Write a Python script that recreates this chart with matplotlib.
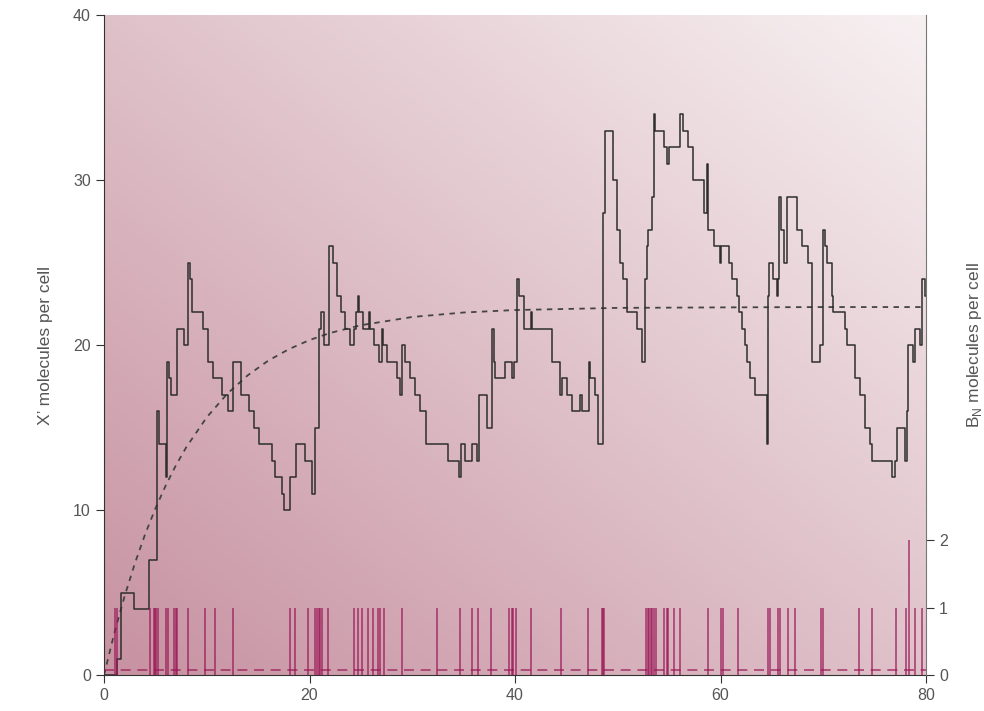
import numpy as np
import matplotlib.pyplot as plt

# X' molecule count (step trace), change points
step_t = [0, 1.23, 1.62, 2.9, 4.38, 5.19, 5.35, 6.0, 6.16, 6.3, 6.5, 7.1, 7.75,
          8.22, 8.4, 8.6, 9.6, 10.15, 10.65, 11.45, 12.05, 12.6, 13.3, 14.07,
          14.55, 15.1, 16.35, 16.6, 17.35, 17.5, 18.12, 18.7, 19.58, 20.22,
          20.55, 20.96, 21.1, 21.45, 21.85, 22.25, 22.65, 23.1, 23.45, 23.9,
          24.3, 24.55, 24.75, 24.85, 25.25, 25.75, 25.85, 26.24, 26.73, 27.05,
          27.15, 27.5, 28.5, 28.8, 29.0, 29.3, 29.8, 30.3, 30.8, 31.3, 33.5,
          34.5, 34.7, 35.13, 35.78, 36.27, 36.46, 37.27, 37.76, 37.92, 38.08,
          39.06, 39.7, 39.87, 40.19, 40.35, 40.84, 41.6, 41.7, 43.6, 44.41,
          44.57, 45.06, 45.55, 46.36, 46.5, 47.2, 47.3, 47.8, 48.11, 48.6,
          48.75, 49.57, 49.9, 50.22, 50.54, 50.87, 51.84, 52.33, 52.65, 52.8,
          52.98, 53.3, 53.5, 53.6, 54.45, 54.8, 54.95, 56.05, 56.35, 56.85,
          57.3, 58.4, 58.65, 58.8, 59.35, 59.95, 60.05, 60.8, 61.12, 61.6,
          61.77, 62.1, 62.42, 62.6, 62.9, 63.4, 64.5, 64.65, 64.75, 65.15,
          65.45, 65.6, 65.7, 65.85, 66.15, 66.5, 67.45, 67.95, 68.55, 68.9,
          69.72, 70.02, 70.15, 70.33, 70.82, 70.98, 72.11, 72.28, 73.09, 73.57,
          74.06, 74.55, 74.71, 76.65, 76.98, 77.14, 77.95, 78.11, 78.2, 78.76,
          78.93, 79.41, 79.57, 79.85, 80]
step_v = [0, 1, 5, 4, 7, 16, 14, 12, 19, 18, 17, 21, 20,
          25, 24, 22, 21, 19, 18, 17, 16, 19, 17, 16,
          15, 14, 13, 12, 11, 10, 12, 14, 13, 11,
          15, 21, 22, 20, 26, 25, 23, 22, 21, 20,
          21, 22, 23, 22, 21, 22, 21, 20, 19, 21,
          20, 19, 18, 17, 20, 19, 18, 17, 16, 14, 13,
          12, 14, 13, 14, 13, 17, 15, 21, 19, 18,
          19, 18, 19, 24, 23, 21, 22, 21, 19, 17,
          18, 17, 16, 17, 16, 19, 18, 17, 14, 28,
          33, 30, 27, 25, 24, 22, 21, 19, 24, 26,
          27, 29, 34, 33, 32, 31, 32, 34, 33, 32,
          30, 28, 31, 27, 26, 25, 26, 25, 24, 23,
          22, 21, 20, 19, 18, 17, 14, 23, 25, 24,
          23, 24, 29, 27, 25, 29, 27, 26, 25, 19,
          20, 27, 26, 25, 23, 22, 21, 20, 18, 17,
          15, 14, 13, 12, 13, 15, 13, 16, 20, 19,
          21, 20, 24, 23, 23]

# mean X' (dashed curve), sampled from the figure
mean_t = [0, 1, 2, 3, 4, 5, 6, 7, 8, 10, 12, 14, 16, 18, 20, 22, 25, 30, 35,
          40, 50, 60, 70, 80]
mean_v = [0, 2.53, 4.77, 6.76, 8.53, 10.09, 11.48, 12.71, 13.8, 15.62, 17.05,
          18.17, 19.06, 19.75, 20.3, 20.73, 21.2, 21.7, 21.97, 22.12, 22.25,
          22.28, 22.3, 22.3]

# B_N burst events (time, height)
burst_t = [1.07, 1.3, 4.48, 4.87, 4.96, 5.1, 5.3, 6.03, 6.26, 6.8, 7.0, 7.1,
           8.2, 9.83, 10.8, 12.6, 18.1, 18.6, 19.9, 20.5, 20.7, 20.9, 21.0,
           21.2, 21.8, 24.3, 24.7, 25.1, 25.7, 26.2, 26.7, 26.9, 27.2, 29.0,
           32.4, 34.6, 35.8, 36.4, 37.7, 39.45, 39.7, 39.8, 40.1, 41.6, 44.5,
           47.1, 48.5, 48.6, 48.7, 52.7, 52.9, 53.0, 53.2, 53.3, 53.5, 53.7,
           54.5, 54.8, 54.9, 55.5, 56.1, 58.8, 60.0, 60.2, 61.7, 64.65, 64.8,
           65.6, 65.8, 66.6, 67.2, 69.8, 70.0, 73.5, 74.7, 77.1, 78.05, 78.3,
           78.9, 79.6]
burst_h = [1] * len(burst_t)
burst_h[burst_t.index(78.3)] = 2
burst_mean = 0.08

plt.rcParams['font.family'] = ['Liberation Sans', 'DejaVu Sans']

fig = plt.figure(figsize=(9.84, 7.11), dpi=100)
ax = fig.add_axes([0.1057, 0.0506, 0.8354, 0.9283])

# diagonal pink gradient background
dark = np.array([0.78, 0.57, 0.63])
light = np.array([0.97, 0.945, 0.95])
gx, gy = np.meshgrid(np.linspace(0, 1, 300), np.linspace(1, 0, 300))
s = (gx + gy) / 2
img = dark[None, None, :] * (1 - s[..., None]) + light[None, None, :] * s[..., None]
ax.imshow(img, extent=[0, 80, 0, 40], aspect='auto', zorder=0, interpolation='bilinear')

ax.step(step_t, step_v, where='post', color='#2e2e2e', lw=1.1, zorder=3)
ax.plot(mean_t, mean_v, color='#444444', lw=1.3, dashes=(3, 3), zorder=2)

ax.set_xlim(0, 80)
ax.set_ylim(0, 40)
ax.set_xticks([0, 20, 40, 60, 80])
ax.set_yticks([0, 10, 20, 30, 40])
ax.spines['top'].set_visible(False)
ax.spines['right'].set_visible(False)
for sp in ['left', 'bottom']:
    ax.spines[sp].set_color('#333333')
ax.tick_params(colors='#333333', labelcolor='#555555', labelsize=11.5, length=6)
ax.set_ylabel("X’ molecules per cell", color='#555555', fontsize=12.5, labelpad=14)

ax2 = ax.twinx()
ax2.vlines(burst_t, 0, burst_h, color='#9a1656', alpha=0.75, lw=1.2)
ax2.axhline(burst_mean, color='#9a1656', alpha=0.75, lw=1.2, dashes=(6, 4))
ax2.set_ylim(0, 9.78)
ax2.set_yticks([0, 1, 2])
ax2.spines['top'].set_visible(False)
ax2.spines['left'].set_visible(False)
ax2.spines['bottom'].set_visible(False)
ax2.spines['right'].set_color('#777777')
ax2.tick_params(colors='#333333', labelcolor='#555555', labelsize=11.5, length=6)
ax2.set_ylabel('B$_\\mathregular{N}$ molecules per cell', color='#555555', fontsize=12.5, labelpad=12)

fig.savefig('out.png', dpi=100)
